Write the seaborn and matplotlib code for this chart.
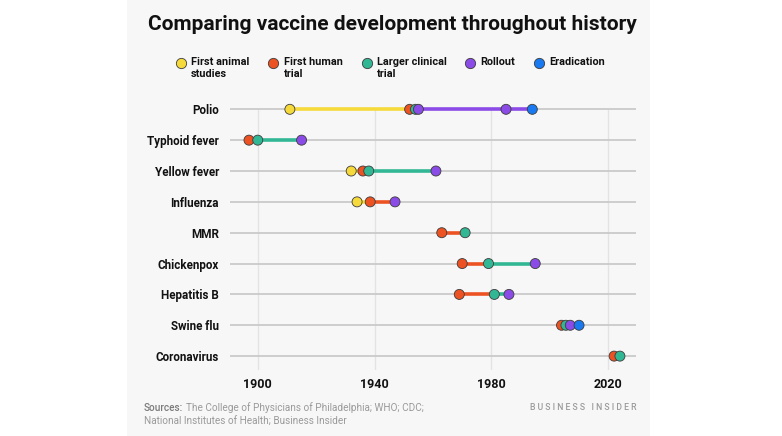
import numpy as np
import pandas as pd
import matplotlib
matplotlib.use("Agg")
import matplotlib.pyplot as plt
import seaborn as sns
from matplotlib.lines import Line2D
from matplotlib.patches import Rectangle

nan = np.nan

##### DATA #####
vaccines = ["Polio", "Typhoid fever", "Yellow fever", "Influenza", "MMR",
            "Chickenpox", "Hepatitis B", "Swine flu", "Coronavirus"]
first_animal = [1911, nan, 1932, 1934, nan, nan, nan, nan, nan]
first_human = [1952, 1897, 1936, 1938.5, 1963, 1970, 1969, 2004, 2022]
larger_trial = [1954, 1900, 1938, nan, 1971, 1979, 1981, 2005.5, 2024]
rollout = [1955, 1915, 1961, 1947, nan, 1995, 1986, 2007, nan]
rollout_later = [1985, nan, nan, nan, nan, nan, nan, nan, nan]  # polio only
eradication = [1994, nan, nan, nan, nan, nan, nan, 2010, nan]

stages = ["First animal\nstudies", "First human\ntrial", "Larger clinical\ntrial",
          "Rollout", "Eradication"]
colors = ["#f6d93b", "#ec5222", "#31b794", "#8b4be6", "#1879f0"]
year_ticks = [1900, 1940, 1980, 2020]

palette = dict(zip(stages, colors))

##### BUILD TABLES #####
stage_values = [(stages[0], first_animal), (stages[1], first_human),
                (stages[2], larger_trial), (stages[3], rollout),
                (stages[3], rollout_later), (stages[4], eradication)]
rows = []
for stage, vals in stage_values:
    for i, v in enumerate(vals):
        if not np.isnan(v):
            rows.append({"vaccine": vaccines[i], "row": i, "stage": stage, "year": v})
points = pd.DataFrame(rows)
points["order"] = points["stage"].map({s: k for k, s in enumerate(stages)})
points = points.sort_values(["order", "year"]).reset_index(drop=True)

# segments between consecutive points, coloured by the starting stage
seg_rows = []
seg_id = 0
for i, name in enumerate(vaccines):
    p = points[points["row"] == i].sort_values("year")
    for (_, a), (_, b) in zip(p.iloc[:-1].iterrows(), p.iloc[1:].iterrows()):
        seg_rows.append({"seg": seg_id, "row": i, "stage": a["stage"], "year": a["year"]})
        seg_rows.append({"seg": seg_id, "row": i, "stage": a["stage"], "year": b["year"]})
        seg_id += 1
segs = pd.DataFrame(seg_rows)

##### PLOT #####
sns.set_style("white")
plt.rcParams["font.family"] = ["Roboto", "DejaVu Sans"]

W, H = 782, 436
fig = plt.figure(figsize=(W / 100, H / 100), dpi=100)
fig.patch.set_facecolor("white")
fig.add_artist(Rectangle((127 / W, 0), (650 - 127) / W, 1, transform=fig.transFigure,
                         facecolor="#f7f7f7", edgecolor="none", zorder=-10))

ax = fig.add_axes([230 / W, 1 - 370 / H, 406 / W, (370 - 90.8) / H])
ax.set_facecolor("none")
ax.set_xlim(1890.5, 2029.5)
ax.set_ylim(8.45, -0.6)

ax.vlines(year_ticks, 0, 8.45, color="#e3e3e3", lw=1, zorder=0)
ax.hlines(range(len(vaccines)), 1890.5, 2029.5, color="#cacaca", lw=1.3, zorder=1)

sns.lineplot(data=segs, x="year", y="row", hue="stage", units="seg", estimator=None,
             palette=palette, linewidth=2.6, legend=False, sort=False, ax=ax, zorder=2)
sns.scatterplot(data=points, x="year", y="row", hue="stage", palette=palette, s=52,
                edgecolor="#3c3c3c", linewidth=0.6, legend=False, ax=ax, zorder=3,
                clip_on=False)

for sp in ax.spines.values():
    sp.set_visible(False)
ax.set_yticks(range(len(vaccines)), vaccines)
ax.set_xticks(year_ticks, [str(t) for t in year_ticks])
ax.tick_params(axis="y", length=0, pad=8, labelsize=8.4, labelcolor="#111111")
ax.tick_params(axis="x", length=0, pad=6, labelsize=9, labelcolor="#111111")
for lab in ax.get_yticklabels() + ax.get_xticklabels():
    lab.set_fontweight("bold")
ax.set_xlabel("")
ax.set_ylabel("")

# title
fig.text(392 / W, 1 - 25 / H, "Comparing vaccine development throughout history",
         ha="center", va="center", fontsize=15, fontweight="bold", color="#111111")

# legend
legend_x = [180.7, 273, 366.7, 470, 538.7]
for x, s, c in zip(legend_x, stages, colors):
    fig.add_artist(Line2D([x / W], [1 - 63.3 / H], transform=fig.transFigure,
                          marker="o", markersize=7.4, markerfacecolor=c,
                          markeredgecolor="#3c3c3c", markeredgewidth=0.6, linestyle="none"))
    fig.text((x + 10.5) / W, 1 - 57 / H, s, ha="left", va="top", fontsize=7.8,
             fontweight="bold", color="#111111", linespacing=1.25)

# footer
fig.canvas.draw()
renderer = fig.canvas.get_renderer()
t1 = fig.text(144 / W, 1 - 408 / H, "Sources:", ha="left", va="center", fontsize=7.2,
              color="#7a7a7a", fontweight="medium")
bb = t1.get_window_extent(renderer)
fig.text((bb.x1 + 2.5) / W, 1 - 408 / H,
         "The College of Physicians of Philadelphia; WHO; CDC;",
         ha="left", va="center", fontsize=7.2, color="#9a9a9a")
fig.text(144 / W, 1 - 422 / H, "National Institutes of Health; Business Insider",
         ha="left", va="center", fontsize=7.2, color="#9a9a9a")
fig.text(637 / W, 1 - 407 / H, "B U S I N E S S   I N S I D E R", ha="right", va="center",
         fontsize=6.2, color="#9a9a9a", fontweight="medium")

fig.savefig("out.png", dpi=100, facecolor="white")
